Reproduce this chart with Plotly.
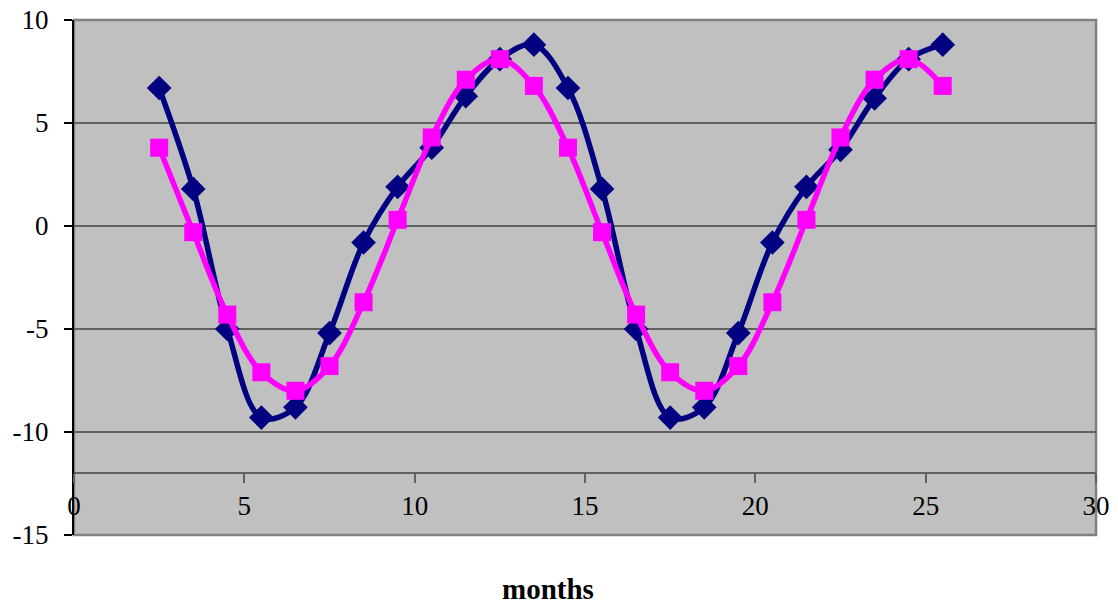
import plotly.graph_objects as go

months = [2.5, 3.5, 4.5, 5.5, 6.5, 7.5, 8.5, 9.5, 10.5, 11.5, 12.5, 13.5,
          14.5, 15.5, 16.5, 17.5, 18.5, 19.5, 20.5, 21.5, 22.5, 23.5, 24.5, 25.5]
series_navy = [6.7, 1.8, -5.0, -9.3, -8.8, -5.2, -0.8, 1.9, 3.8, 6.3, 8.1, 8.8,
               6.7, 1.8, -5.0, -9.3, -8.8, -5.2, -0.8, 1.9, 3.7, 6.2, 8.1, 8.8]
series_magenta = [3.8, -0.3, -4.3, -7.1, -8.0, -6.8, -3.7, 0.3, 4.3, 7.1, 8.1, 6.8,
                  3.8, -0.3, -4.3, -7.1, -8.0, -6.8, -3.7, 0.3, 4.3, 7.1, 8.1, 6.8]
x_ticks = [0, 5, 10, 15, 20, 25, 30]
y_ticks = [-15, -10, -5, 0, 5, 10]

FONT = "Liberation Serif"

fig = go.Figure()
fig.add_trace(go.Scatter(
    x=months, y=series_navy, mode="lines+markers",
    line=dict(color="#000080", width=5.5, shape="spline", smoothing=1.0),
    marker=dict(symbol="diamond", size=19, color="#000080"),
    showlegend=False))
fig.add_trace(go.Scatter(
    x=months, y=series_magenta, mode="lines+markers",
    line=dict(color="#FF00FF", width=5.5, shape="spline", smoothing=1.0),
    marker=dict(symbol="square", size=18, color="#FF00FF"),
    showlegend=False))

# plot area border
fig.add_shape(type="rect", xref="paper", yref="paper", x0=0, y0=0, x1=1, y1=1,
              line=dict(color="#808080", width=2.5), layer="below")

fig.update_layout(
    width=1118, height=606,
    margin=dict(l=74, r=22, t=20, b=71),
    paper_bgcolor="white", plot_bgcolor="#C0C0C0",
    font=dict(family=FONT, size=27, color="black"),
    xaxis=dict(range=[0, 30], tickvals=x_ticks, ticktext=[str(v) for v in x_ticks],
               showgrid=False, zeroline=False, automargin=False,
               anchor="free", position=0.12, ticklabeloverflow="allow",
               showline=True, linecolor="#606060", linewidth=2,
               ticks="outside", ticklen=9, tickwidth=1.5, tickcolor="#606060",
               ticklabelstandoff=-1),
    yaxis=dict(range=[-15, 10], tickvals=y_ticks, ticktext=[str(v) for v in y_ticks],
               showgrid=True, automargin=False, ticklabeloverflow="allow",
               gridcolor="#606060", gridwidth=2, zeroline=False,
               showline=True, linecolor="black", linewidth=2,
               ticks="outside", ticklen=8, tickwidth=1.5, tickcolor="black",
               ticklabelstandoff=10),
    annotations=[dict(text="<b>months</b>", xref="paper", yref="paper",
                      x=0.4638, y=-0.105, xanchor="center", yanchor="middle",
                      showarrow=False, font=dict(family=FONT, size=29))],
)

fig.write_html("out.html", config={"displayModeBar": False},
               post_script="document.body.style.margin='0';document.body.style.overflow='hidden';")
